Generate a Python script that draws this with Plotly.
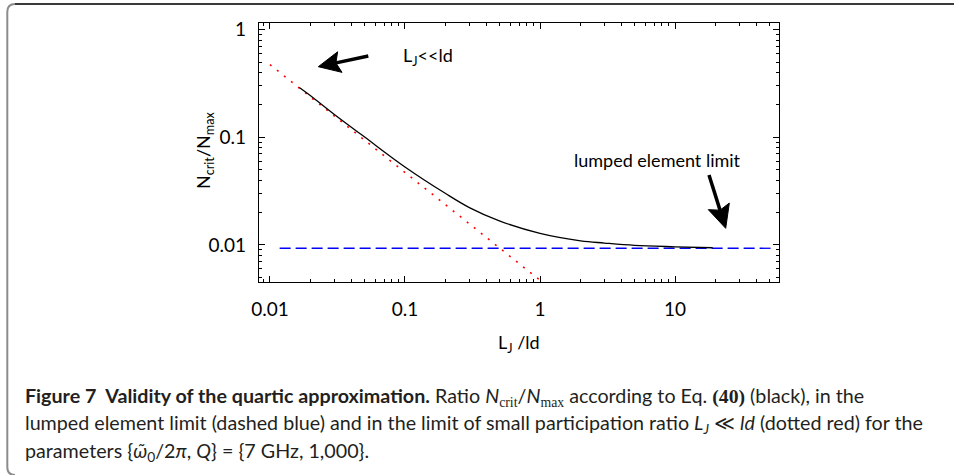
import math
import plotly.graph_objects as go

# ---- data ----
ratio_x = [0.0165, 0.02, 0.03, 0.05, 0.1, 0.2, 0.3, 0.5, 1, 2, 3, 5, 10, 19]
ratio_y = [0.29, 0.243, 0.163, 0.101, 0.053, 0.030, 0.0222, 0.0167, 0.0128,
           0.0109, 0.0104, 0.0099, 0.0096, 0.0094]
lumped_x = [0.0118, 51]
lumped_y = [0.0093, 0.0093]
small_x = [0.01, 1]
small_y = [0.474, 0.00469]

x_tickvals = [0.01, 0.1, 1, 10]
x_ticktext = ["0.01", "0.1", "1", "10"]
y_tickvals = [0.01, 0.1, 1]
y_ticktext = ["0.01", "0.1", "1"]

# ---- geometry (pixels) ----
W, H = 954, 475
L, R, T, B = 259, 779, 23, 282


def px(x):
    return (x - L) / (R - L)


def py(y):
    return (B - y) / (B - T)


FONT = "Lato"

fig = go.Figure()
fig.add_trace(go.Scatter(x=small_x, y=small_y, mode="lines",
                         line=dict(color="#ff0000", width=1.6, dash="2px,7px"),
                         showlegend=False, hoverinfo="skip"))
fig.add_trace(go.Scatter(x=lumped_x, y=lumped_y, mode="lines",
                         line=dict(color="#0000ff", width=1.3, dash="11px,5px"),
                         showlegend=False, hoverinfo="skip"))
fig.add_trace(go.Scatter(x=ratio_x, y=ratio_y, mode="lines",
                         line=dict(color="black", width=1.3, shape="spline"),
                         showlegend=False, hoverinfo="skip"))

minor_x = [m * 10 ** e for e in range(-3, 2) for m in range(2, 10)]
minor_y = [m * 10 ** e for e in range(-3, 1) for m in range(2, 10)]

axis_common = dict(
    type="log", showline=True, linecolor="black", linewidth=1.3,
    mirror="allticks", ticks="inside", ticklen=6, tickwidth=1, tickcolor="black",
    showgrid=False, zeroline=False,
    tickfont=dict(family=FONT, size=19, color="black"),
)

fig.update_xaxes(**axis_common, range=[-2.081, 1.770],
                 tickmode="array", tickvals=x_tickvals, ticktext=x_ticktext,
                 minor=dict(ticks="inside", ticklen=3, tickcolor="black",
                            tickmode="array", tickvals=minor_x),
                 ticklabelstandoff=10)
fig.update_yaxes(**axis_common, range=[-2.345, 0.062],
                 tickmode="array", tickvals=y_tickvals, ticktext=y_ticktext,
                 minor=dict(ticks="inside", ticklen=3, tickcolor="black",
                            tickmode="array", tickvals=minor_y),
                 ticklabelstandoff=8)

TXT = dict(family=FONT, size=18, color="black")
ann = []
# axis titles
ann.append(dict(x=px(519), y=py(343), xref="paper", yref="paper",
                xanchor="center", yanchor="middle",
                text="L<sub>J</sub> /ld", showarrow=False, font=TXT))
ann.append(dict(x=px(204), y=py(151), xref="paper", yref="paper",
                xanchor="center", yanchor="middle",
                text="N<sub>crit</sub>/N<sub>max</sub>", showarrow=False,
                textangle=-90, font=TXT))
# labels
ann.append(dict(x=px(428), y=py(57), xref="paper", yref="paper",
                xanchor="center", yanchor="middle",
                text="L<sub>J</sub>&lt;&lt;ld", showarrow=False, font=TXT))
ann.append(dict(x=px(657), y=py(160), xref="paper", yref="paper",
                xanchor="center", yanchor="middle",
                text="lumped element limit", showarrow=False, font=TXT))

# caption
CAP = dict(family=FONT, size=19.7, color="#231f20")
serif = "font-family:Liberation Serif"
cap_lines = [
    ("<b>Figure 7\u00a0 Validity of the quartic approximation.</b> Ratio "
     "<i>N</i><sub><span style=\"" + serif + "\">crit</span></sub>/<i>N</i>"
     "<sub><span style=\"" + serif + "\">max</span></sub> according to Eq. "
     "<span style=\"" + serif + "\"><b>(40)</b></span> (black), in the", 397),
    ("lumped element limit (dashed blue) and in the limit of small participation ratio "
     "<i>L<sub>J</sub></i> \u226a <i>ld</i> (dotted red) for the", 424),
    ("parameters {<i>\u03c9\u0303</i><sub>0</sub>/2<i>\u03c0</i>, <i>Q</i>} = {7 GHz, 1,000}.", 452),
]
for txt, yy in cap_lines:
    ann.append(dict(x=px(22.7), y=py(yy), xref="paper", yref="paper",
                    xanchor="left", yanchor="middle", text=txt, showarrow=False,
                    font=CAP))


# arrows drawn as shapes (shaft + stealth head), pixel geometry -> paper
def arrow_shapes(tail, tip, head_len=22, half_w=10, notch=4, width=3.5):
    dx, dy = tip[0] - tail[0], tip[1] - tail[1]
    n = math.hypot(dx, dy)
    ux, uy = dx / n, dy / n
    vx, vy = uy, -ux
    bx, by = tip[0] - head_len * ux, tip[1] - head_len * uy
    c1 = (bx + half_w * vx, by + half_w * vy)
    c2 = (bx - half_w * vx, by - half_w * vy)
    nb = (bx + notch * ux, by + notch * uy)
    head = "M {} {} L {} {} L {} {} L {} {} Z".format(
        px(tip[0]), py(tip[1]), px(c1[0]), py(c1[1]),
        px(nb[0]), py(nb[1]), px(c2[0]), py(c2[1]))
    return [
        dict(type="line", xref="paper", yref="paper",
             x0=px(tail[0]), y0=py(tail[1]), x1=px(nb[0] + ux), y1=py(nb[1] + uy),
             line=dict(color="black", width=width)),
        dict(type="path", xref="paper", yref="paper", path=head,
             fillcolor="black", line=dict(color="black", width=1)),
    ]


# outer frame
left_path = "M {} {} Q {} {} {} {} L {} {} Q {} {} {} {}".format(
    px(15), py(475), px(7.3), py(475), px(7.3), py(467),
    px(7.3), py(12), px(7.3), py(4), px(15), py(4))
top_path = "M {} {} L {} {}".format(px(15), py(4), px(954), py(4))
shapes = [
    dict(type="path", path=left_path, xref="paper", yref="paper",
         line=dict(color="#8c8c8c", width=2)),
    dict(type="path", path=top_path, xref="paper", yref="paper",
         line=dict(color="#3a3a3a", width=2)),
]
shapes += arrow_shapes((368.3, 56.0), (318.3, 66.7), head_len=22, half_w=10.5)
shapes += arrow_shapes((709.0, 175.0), (725.7, 228.3), head_len=23, half_w=11)

fig.update_layout(
    width=W, height=H, autosize=False,
    margin=dict(l=L, r=W - R, t=T, b=H - B, pad=0),
    paper_bgcolor="white", plot_bgcolor="white",
    showlegend=False, annotations=ann, shapes=shapes,
    font=dict(family=FONT, color="black"),
)

fig.write_html("out.html", config={"displayModeBar": False},
               post_script="document.body.style.margin='0';document.body.style.padding='0';")
